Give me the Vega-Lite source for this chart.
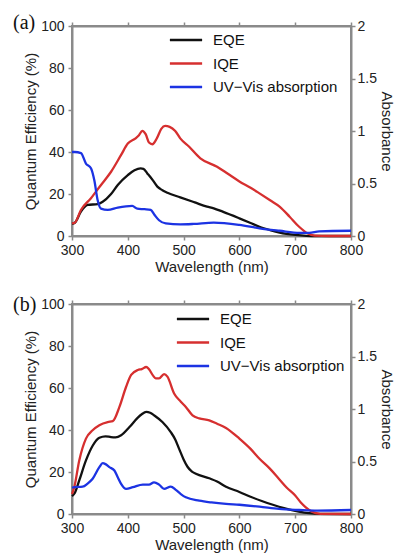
{
"$schema":"https://vega.github.io/schema/vega-lite/v6.json",
"padding":{"left":12,"top":12,"right":0,"bottom":0},
"background":"white",
"data":{"values":[
{"p":"a","s":"EQE","w":300,"v":5.8},{"p":"a","s":"EQE","w":305,"v":6.3},{"p":"a","s":"EQE","w":316,"v":11.6},{"p":"a","s":"EQE","w":328,"v":14.8},{"p":"a","s":"EQE","w":346,"v":15.2},{"p":"a","s":"EQE","w":355,"v":16.3},{"p":"a","s":"EQE","w":370,"v":20},{"p":"a","s":"EQE","w":382,"v":24.3},{"p":"a","s":"EQE","w":400,"v":29},{"p":"a","s":"EQE","w":412,"v":31.3},{"p":"a","s":"EQE","w":423,"v":32.2},{"p":"a","s":"EQE","w":428,"v":32},{"p":"a","s":"EQE","w":435,"v":29.8},{"p":"a","s":"EQE","w":445,"v":26.5},{"p":"a","s":"EQE","w":453,"v":23.5},{"p":"a","s":"EQE","w":462,"v":21.8},{"p":"a","s":"EQE","w":471,"v":20.6},{"p":"a","s":"EQE","w":494,"v":18.4},{"p":"a","s":"EQE","w":520,"v":16},{"p":"a","s":"EQE","w":542,"v":14},{"p":"a","s":"EQE","w":554,"v":13.2},{"p":"a","s":"EQE","w":570,"v":11.6},{"p":"a","s":"EQE","w":600,"v":8.4},{"p":"a","s":"EQE","w":620,"v":6.2},{"p":"a","s":"EQE","w":636,"v":4.4},{"p":"a","s":"EQE","w":655,"v":2.8},{"p":"a","s":"EQE","w":672,"v":1.6},{"p":"a","s":"EQE","w":700,"v":0.5},{"p":"a","s":"EQE","w":720,"v":0.1},{"p":"a","s":"EQE","w":740,"v":0},{"p":"a","s":"EQE","w":800,"v":0},
{"p":"a","s":"IQE","w":300,"v":6},{"p":"a","s":"IQE","w":305,"v":6.3},{"p":"a","s":"IQE","w":316,"v":12.4},{"p":"a","s":"IQE","w":334,"v":18},{"p":"a","s":"IQE","w":352,"v":24.3},{"p":"a","s":"IQE","w":370,"v":30.6},{"p":"a","s":"IQE","w":388,"v":38.6},{"p":"a","s":"IQE","w":400,"v":44},{"p":"a","s":"IQE","w":414,"v":46.5},{"p":"a","s":"IQE","w":420,"v":48},{"p":"a","s":"IQE","w":426,"v":50.1},{"p":"a","s":"IQE","w":432,"v":48.5},{"p":"a","s":"IQE","w":438,"v":44.5},{"p":"a","s":"IQE","w":444,"v":43.7},{"p":"a","s":"IQE","w":452,"v":46.5},{"p":"a","s":"IQE","w":460,"v":51},{"p":"a","s":"IQE","w":467,"v":52.4},{"p":"a","s":"IQE","w":475,"v":52},{"p":"a","s":"IQE","w":485,"v":50},{"p":"a","s":"IQE","w":494,"v":46.5},{"p":"a","s":"IQE","w":510,"v":42.5},{"p":"a","s":"IQE","w":530,"v":37},{"p":"a","s":"IQE","w":560,"v":33},{"p":"a","s":"IQE","w":580,"v":29.5},{"p":"a","s":"IQE","w":600,"v":26},{"p":"a","s":"IQE","w":620,"v":23},{"p":"a","s":"IQE","w":636,"v":20.3},{"p":"a","s":"IQE","w":655,"v":17},{"p":"a","s":"IQE","w":672,"v":14},{"p":"a","s":"IQE","w":690,"v":9.2},{"p":"a","s":"IQE","w":707,"v":4.4},{"p":"a","s":"IQE","w":722,"v":1.3},{"p":"a","s":"IQE","w":735,"v":0.2},{"p":"a","s":"IQE","w":760,"v":0},{"p":"a","s":"IQE","w":800,"v":0},
{"p":"a","s":"UV−Vis absorption","w":300,"v":0.8},{"p":"a","s":"UV−Vis absorption","w":305,"v":0.8},{"p":"a","s":"UV−Vis absorption","w":316,"v":0.79},{"p":"a","s":"UV−Vis absorption","w":325,"v":0.69},{"p":"a","s":"UV−Vis absorption","w":334,"v":0.645},{"p":"a","s":"UV−Vis absorption","w":340,"v":0.53},{"p":"a","s":"UV−Vis absorption","w":346,"v":0.34},{"p":"a","s":"UV−Vis absorption","w":352,"v":0.26},{"p":"a","s":"UV−Vis absorption","w":364,"v":0.248},{"p":"a","s":"UV−Vis absorption","w":382,"v":0.27},{"p":"a","s":"UV−Vis absorption","w":408,"v":0.286},{"p":"a","s":"UV−Vis absorption","w":417,"v":0.26},{"p":"a","s":"UV−Vis absorption","w":430,"v":0.255},{"p":"a","s":"UV−Vis absorption","w":441,"v":0.248},{"p":"a","s":"UV−Vis absorption","w":448,"v":0.2},{"p":"a","s":"UV−Vis absorption","w":456,"v":0.15},{"p":"a","s":"UV−Vis absorption","w":468,"v":0.12},{"p":"a","s":"UV−Vis absorption","w":494,"v":0.111},{"p":"a","s":"UV−Vis absorption","w":518,"v":0.115},{"p":"a","s":"UV−Vis absorption","w":554,"v":0.127},{"p":"a","s":"UV−Vis absorption","w":600,"v":0.105},{"p":"a","s":"UV−Vis absorption","w":636,"v":0.073},{"p":"a","s":"UV−Vis absorption","w":672,"v":0.05},{"p":"a","s":"UV−Vis absorption","w":708,"v":0.03},{"p":"a","s":"UV−Vis absorption","w":725,"v":0.03},{"p":"a","s":"UV−Vis absorption","w":743,"v":0.045},{"p":"a","s":"UV−Vis absorption","w":800,"v":0.05},
{"p":"b","s":"EQE","w":300,"v":8.5},{"p":"b","s":"EQE","w":305,"v":10},{"p":"b","s":"EQE","w":313,"v":16},{"p":"b","s":"EQE","w":325,"v":25.5},{"p":"b","s":"EQE","w":337,"v":32.5},{"p":"b","s":"EQE","w":349,"v":36.3},{"p":"b","s":"EQE","w":360,"v":37},{"p":"b","s":"EQE","w":370,"v":36.6},{"p":"b","s":"EQE","w":378,"v":36.5},{"p":"b","s":"EQE","w":388,"v":37.5},{"p":"b","s":"EQE","w":403,"v":41.4},{"p":"b","s":"EQE","w":418,"v":45.9},{"p":"b","s":"EQE","w":425,"v":47.5},{"p":"b","s":"EQE","w":433,"v":48.6},{"p":"b","s":"EQE","w":440,"v":48.2},{"p":"b","s":"EQE","w":448,"v":46.8},{"p":"b","s":"EQE","w":462,"v":43.8},{"p":"b","s":"EQE","w":477,"v":39},{"p":"b","s":"EQE","w":485,"v":35.5},{"p":"b","s":"EQE","w":492,"v":31},{"p":"b","s":"EQE","w":500,"v":26},{"p":"b","s":"EQE","w":507,"v":22.5},{"p":"b","s":"EQE","w":515,"v":20.2},{"p":"b","s":"EQE","w":522,"v":19.2},{"p":"b","s":"EQE","w":546,"v":17},{"p":"b","s":"EQE","w":560,"v":15.5},{"p":"b","s":"EQE","w":576,"v":13},{"p":"b","s":"EQE","w":600,"v":10.5},{"p":"b","s":"EQE","w":620,"v":8.2},{"p":"b","s":"EQE","w":640,"v":6.2},{"p":"b","s":"EQE","w":660,"v":4.4},{"p":"b","s":"EQE","w":680,"v":2.8},{"p":"b","s":"EQE","w":700,"v":1.5},{"p":"b","s":"EQE","w":720,"v":0.5},{"p":"b","s":"EQE","w":740,"v":0.1},{"p":"b","s":"EQE","w":800,"v":0},
{"p":"b","s":"IQE","w":300,"v":9.5},{"p":"b","s":"IQE","w":304,"v":12.7},{"p":"b","s":"IQE","w":313,"v":25.5},{"p":"b","s":"IQE","w":325,"v":35.9},{"p":"b","s":"IQE","w":337,"v":39.9},{"p":"b","s":"IQE","w":349,"v":42.3},{"p":"b","s":"IQE","w":364,"v":43.8},{"p":"b","s":"IQE","w":373,"v":44.2},{"p":"b","s":"IQE","w":385,"v":51},{"p":"b","s":"IQE","w":397,"v":60.6},{"p":"b","s":"IQE","w":406,"v":66.2},{"p":"b","s":"IQE","w":418,"v":68.6},{"p":"b","s":"IQE","w":425,"v":69},{"p":"b","s":"IQE","w":433,"v":70},{"p":"b","s":"IQE","w":438,"v":68.9},{"p":"b","s":"IQE","w":445,"v":66},{"p":"b","s":"IQE","w":450,"v":64.6},{"p":"b","s":"IQE","w":456,"v":64.6},{"p":"b","s":"IQE","w":465,"v":66.6},{"p":"b","s":"IQE","w":471,"v":65.4},{"p":"b","s":"IQE","w":483,"v":57.4},{"p":"b","s":"IQE","w":495,"v":53.5},{"p":"b","s":"IQE","w":504,"v":51},{"p":"b","s":"IQE","w":516,"v":47},{"p":"b","s":"IQE","w":528,"v":45.5},{"p":"b","s":"IQE","w":546,"v":44.6},{"p":"b","s":"IQE","w":560,"v":43},{"p":"b","s":"IQE","w":576,"v":41},{"p":"b","s":"IQE","w":600,"v":35.9},{"p":"b","s":"IQE","w":620,"v":31},{"p":"b","s":"IQE","w":636,"v":26.3},{"p":"b","s":"IQE","w":655,"v":21.5},{"p":"b","s":"IQE","w":671,"v":16.7},{"p":"b","s":"IQE","w":685,"v":12.5},{"p":"b","s":"IQE","w":700,"v":8.8},{"p":"b","s":"IQE","w":710,"v":5.5},{"p":"b","s":"IQE","w":719,"v":3.2},{"p":"b","s":"IQE","w":731,"v":1},{"p":"b","s":"IQE","w":745,"v":0.1},{"p":"b","s":"IQE","w":800,"v":0},
{"p":"b","s":"UV−Vis absorption","w":300,"v":0.25},{"p":"b","s":"UV−Vis absorption","w":304,"v":0.255},{"p":"b","s":"UV−Vis absorption","w":319,"v":0.26},{"p":"b","s":"UV−Vis absorption","w":328,"v":0.29},{"p":"b","s":"UV−Vis absorption","w":337,"v":0.335},{"p":"b","s":"UV−Vis absorption","w":349,"v":0.446},{"p":"b","s":"UV−Vis absorption","w":355,"v":0.484},{"p":"b","s":"UV−Vis absorption","w":360,"v":0.475},{"p":"b","s":"UV−Vis absorption","w":367,"v":0.446},{"p":"b","s":"UV−Vis absorption","w":376,"v":0.414},{"p":"b","s":"UV−Vis absorption","w":382,"v":0.35},{"p":"b","s":"UV−Vis absorption","w":388,"v":0.287},{"p":"b","s":"UV−Vis absorption","w":397,"v":0.239},{"p":"b","s":"UV−Vis absorption","w":409,"v":0.255},{"p":"b","s":"UV−Vis absorption","w":427,"v":0.28},{"p":"b","s":"UV−Vis absorption","w":438,"v":0.28},{"p":"b","s":"UV−Vis absorption","w":447,"v":0.302},{"p":"b","s":"UV−Vis absorption","w":456,"v":0.28},{"p":"b","s":"UV−Vis absorption","w":465,"v":0.239},{"p":"b","s":"UV−Vis absorption","w":477,"v":0.261},{"p":"b","s":"UV−Vis absorption","w":486,"v":0.23},{"p":"b","s":"UV−Vis absorption","w":495,"v":0.19},{"p":"b","s":"UV−Vis absorption","w":504,"v":0.159},{"p":"b","s":"UV−Vis absorption","w":528,"v":0.127},{"p":"b","s":"UV−Vis absorption","w":550,"v":0.11},{"p":"b","s":"UV−Vis absorption","w":576,"v":0.096},{"p":"b","s":"UV−Vis absorption","w":600,"v":0.088},{"p":"b","s":"UV−Vis absorption","w":636,"v":0.07},{"p":"b","s":"UV−Vis absorption","w":671,"v":0.048},{"p":"b","s":"UV−Vis absorption","w":707,"v":0.038},{"p":"b","s":"UV−Vis absorption","w":740,"v":0.032},{"p":"b","s":"UV−Vis absorption","w":800,"v":0.038}
]},
"spacing":19,
"vconcat":[
{
"width":279,"height":210,
"title":{"text":"(a)","anchor":"start","frame":"group","dx":-59,"offset":-14},
"transform":[{"filter":"datum.p==='a'"}],
"layer":[
{"transform":[{"filter":"datum.s!=='UV−Vis absorption'"}],
"mark":{"type":"line","strokeWidth":2.3,"interpolate":"monotone"},
"encoding":{
"x":{"field":"w","type":"quantitative","scale":{"domain":[300,800],"nice":false},"axis":{"values":[300,400,500,600,700,800],"title":"Wavelength (nm)"}},
"y":{"field":"v","type":"quantitative","scale":{"domain":[0,100],"nice":false},"axis":{"orient":"left","values":[0,20,40,60,80,100],"title":"Quantum Efficiency (%)"}},
"color":{"field":"s","type":"nominal","scale":{"domain":["EQE","IQE","UV−Vis absorption"],"range":["#111111","#d62f2f","#1c33e3"]},"legend":{"orient":"none","legendX":101,"legendY":1}},
"order":{"field":"w","type":"quantitative"}}},
{"transform":[{"filter":"datum.s==='UV−Vis absorption'"}],
"mark":{"type":"line","strokeWidth":2.3,"interpolate":"monotone"},
"encoding":{
"x":{"field":"w","type":"quantitative","scale":{"domain":[300,800],"nice":false},"axis":{"orient":"top","values":[300,400,500,600,700,800],"labels":false,"title":null}},
"y":{"field":"v","type":"quantitative","scale":{"domain":[0,2],"nice":false},"axis":{"orient":"right","values":[0,0.5,1,1.5,2],"format":"~g","title":"Absorbance","labelPadding":2}},
"color":{"field":"s","type":"nominal","scale":{"domain":["EQE","IQE","UV−Vis absorption"],"range":["#111111","#d62f2f","#1c33e3"]},"legend":{"orient":"none","legendX":101,"legendY":1}},
"order":{"field":"w","type":"quantitative"}}}
],
"resolve":{"scale":{"y":"independent"},"axis":{"x":"independent"}}
},
{
"width":279,"height":210,
"title":{"text":"(b)","anchor":"start","frame":"group","dx":-59,"offset":-18},
"transform":[{"filter":"datum.p==='b'"}],
"layer":[
{"transform":[{"filter":"datum.s!=='UV−Vis absorption'"}],
"mark":{"type":"line","strokeWidth":2.3,"interpolate":"monotone"},
"encoding":{
"x":{"field":"w","type":"quantitative","scale":{"domain":[300,800],"nice":false},"axis":{"values":[300,400,500,600,700,800],"title":"Wavelength (nm)"}},
"y":{"field":"v","type":"quantitative","scale":{"domain":[0,100],"nice":false},"axis":{"orient":"left","values":[0,20,40,60,80,100],"title":"Quantum Efficiency (%)"}},
"color":{"field":"s","type":"nominal","scale":{"domain":["EQE","IQE","UV−Vis absorption"],"range":["#111111","#d62f2f","#1c33e3"]},"legend":{"orient":"none","legendX":108,"legendY":2}},
"order":{"field":"w","type":"quantitative"}}},
{"transform":[{"filter":"datum.s==='UV−Vis absorption'"}],
"mark":{"type":"line","strokeWidth":2.3,"interpolate":"monotone"},
"encoding":{
"x":{"field":"w","type":"quantitative","scale":{"domain":[300,800],"nice":false},"axis":{"orient":"top","values":[300,400,500,600,700,800],"labels":false,"title":null}},
"y":{"field":"v","type":"quantitative","scale":{"domain":[0,2],"nice":false},"axis":{"orient":"right","values":[0,0.5,1,1.5,2],"format":"~g","title":"Absorbance","labelPadding":2}},
"color":{"field":"s","type":"nominal","scale":{"domain":["EQE","IQE","UV−Vis absorption"],"range":["#111111","#d62f2f","#1c33e3"]},"legend":{"orient":"none","legendX":108,"legendY":2}},
"order":{"field":"w","type":"quantitative"}}}
],
"resolve":{"scale":{"y":"independent"},"axis":{"x":"independent"}}
}
],
"resolve":{"scale":{"color":"independent"},"legend":{"color":"independent"}},
"config":{
"font":"Liberation Sans",
"view":{"stroke":"#8a8a8a","strokeWidth":2},
"axis":{"grid":false,"labelFlush":false,"domainColor":"#8a8a8a","domainWidth":2,"tickColor":"#8a8a8a","tickWidth":1.5,"tickSize":4,"labelFont":"Liberation Sans","labelFontSize":14,"labelColor":"#222222","labelPadding":3,"titleFont":"Liberation Sans","titleFontSize":15,"titleFontWeight":"normal","titleColor":"#222222","titlePadding":2},
"axisLeft":{"labelPadding":4},
"legend":{"title":null,"symbolType":"M-1.4,0H1.4","symbolSize":530,"symbolStrokeWidth":2.5,"labelFont":"Liberation Sans","labelFontSize":15,"labelColor":"#111111","labelOffset":14,"rowPadding":2.5,"padding":0},
"title":{"font":"Liberation Serif","fontSize":20,"fontWeight":"normal","color":"#111111"}
}
}
